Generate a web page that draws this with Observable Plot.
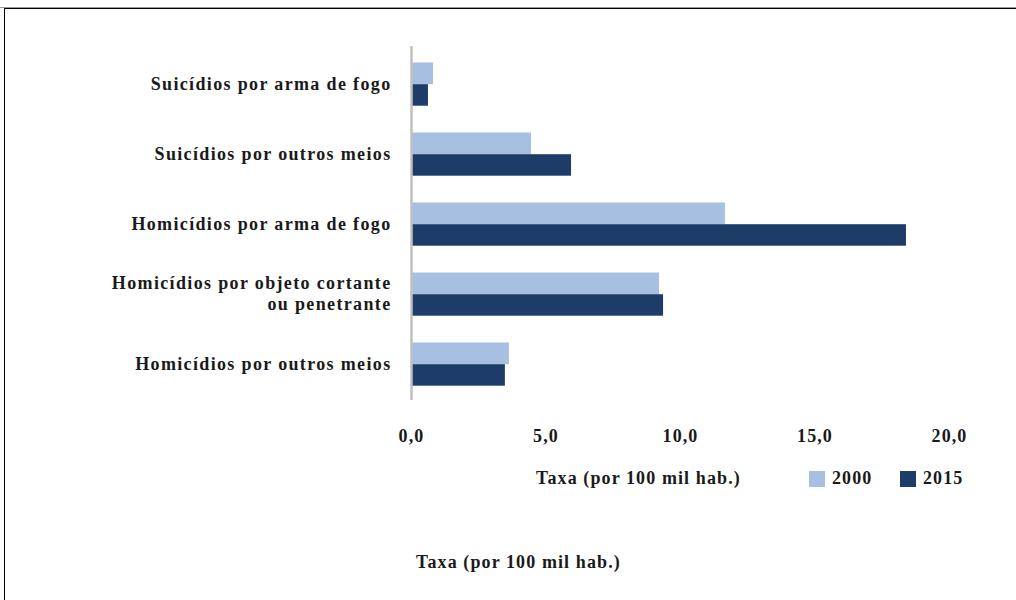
<!DOCTYPE html>
<html>
<head>
<meta charset="utf-8">
<script src="https://cdn.jsdelivr.net/npm/d3@7"></script>
<script src="https://cdn.jsdelivr.net/npm/@observablehq/plot@0.6"></script>
<style>
  html, body { margin: 0; padding: 0; background: #fff; }
  body { width: 1016px; height: 600px; position: relative; overflow: hidden;
         font-family: "Liberation Serif", "Times New Roman", serif; font-weight: bold; color: #1a1a1a; }
  #grayline { position: absolute; left: 0; top: 7px; width: 1016px; height: 1px; background: #9a9a9a; }
  #frame { position: absolute; left: 4px; top: 8px; width: 1100px; height: 700px;
           border-top: 1px solid #000; border-left: 1px solid #000; }
  #chart { position: absolute; left: 0; top: 0; }
  .txt { position: absolute; font-size: 18px; letter-spacing: 1.1px; line-height: 20px; white-space: nowrap; }
  .sw { position: absolute; width: 16px; height: 16px; }
  #chart g[aria-label="y-axis tick label"] text { letter-spacing: 1.35px; }
</style>
</head>
<body>
<div id="grayline"></div>
<div id="frame"></div>
<div id="chart"></div>
<div class="txt" id="xlab" style="left:536px; top:468px;"></div>
<div class="sw" id="sw0" style="left:809px; top:471px;"></div>
<div class="txt" id="lg0" style="left:832px; top:468px;"></div>
<div class="sw" id="sw1" style="left:900px; top:471px;"></div>
<div class="txt" id="lg1" style="left:923px; top:468px;"></div>
<div class="txt" id="caption" style="left:416px; top:552px;"></div>
<script>
const categories = [
  "Suicídios por arma de fogo",
  "Suicídios por outros meios",
  "Homicídios por arma de fogo",
  "Homicídios por objeto cortante\nou penetrante",
  "Homicídios por outros meios"
];
const years = ["2000", "2015"];
const values2000 = [0.82, 4.46, 11.67, 9.22, 3.64];
const values2015 = [0.63, 5.95, 18.40, 9.37, 3.49];
const xTicks = [0, 5, 10, 15, 20];
const colors = ["#a7bfe0", "#1d3c68"];
const axisTitle = "Taxa (por 100 mil hab.)";

const rows2000 = categories.map((c, i) => ({category: c, year: years[0], value: values2000[i]}));
const rows2015 = categories.map((c, i) => ({category: c, year: years[1], value: values2015[i]}));

const fmt = d => d.toFixed(1).replace(".", ",");

const chart = Plot.plot({
  width: 1016,
  height: 460,
  marginLeft: 411,
  marginRight: 67,
  marginTop: 48.5,
  marginBottom: 61.5,
  style: {
    fontFamily: '"Liberation Serif", "Times New Roman", serif',
    fontSize: "18px",
    fontWeight: "bold",
    letterSpacing: "1.1px",
    color: "#1a1a1a",
    background: "transparent",
    overflow: "visible"
  },
  x: {domain: [0, 20]},
  y: {domain: categories, padding: 0},
  marks: [
    Plot.barX(rows2000, {x: "value", y: "category", fill: colors[0], insetTop: 13.5, insetBottom: 34.8}),
    Plot.barX(rows2015, {x: "value", y: "category", fill: colors[1], insetTop: 35.2, insetBottom: 13.3}),
    Plot.ruleX([0], {stroke: "#c0c0c0", strokeWidth: 2.5, insetTop: -2.5, insetBottom: -1.5}),
    Plot.axisX({ticks: xTicks, tickFormat: fmt, tickSize: 0, tickPadding: 30, label: null, fontSize: 18}),
    Plot.axisY({tickSize: 0, tickPadding: 20, label: null, fontSize: 18, lineHeight: 1.17, dy: -1.5})
  ]
});
document.getElementById("chart").appendChild(chart);

document.getElementById("xlab").textContent = axisTitle;
document.getElementById("caption").textContent = axisTitle;
document.getElementById("sw0").style.background = colors[0];
document.getElementById("sw1").style.background = colors[1];
document.getElementById("lg0").textContent = years[0];
document.getElementById("lg1").textContent = years[1];
</script>
</body>
</html>
